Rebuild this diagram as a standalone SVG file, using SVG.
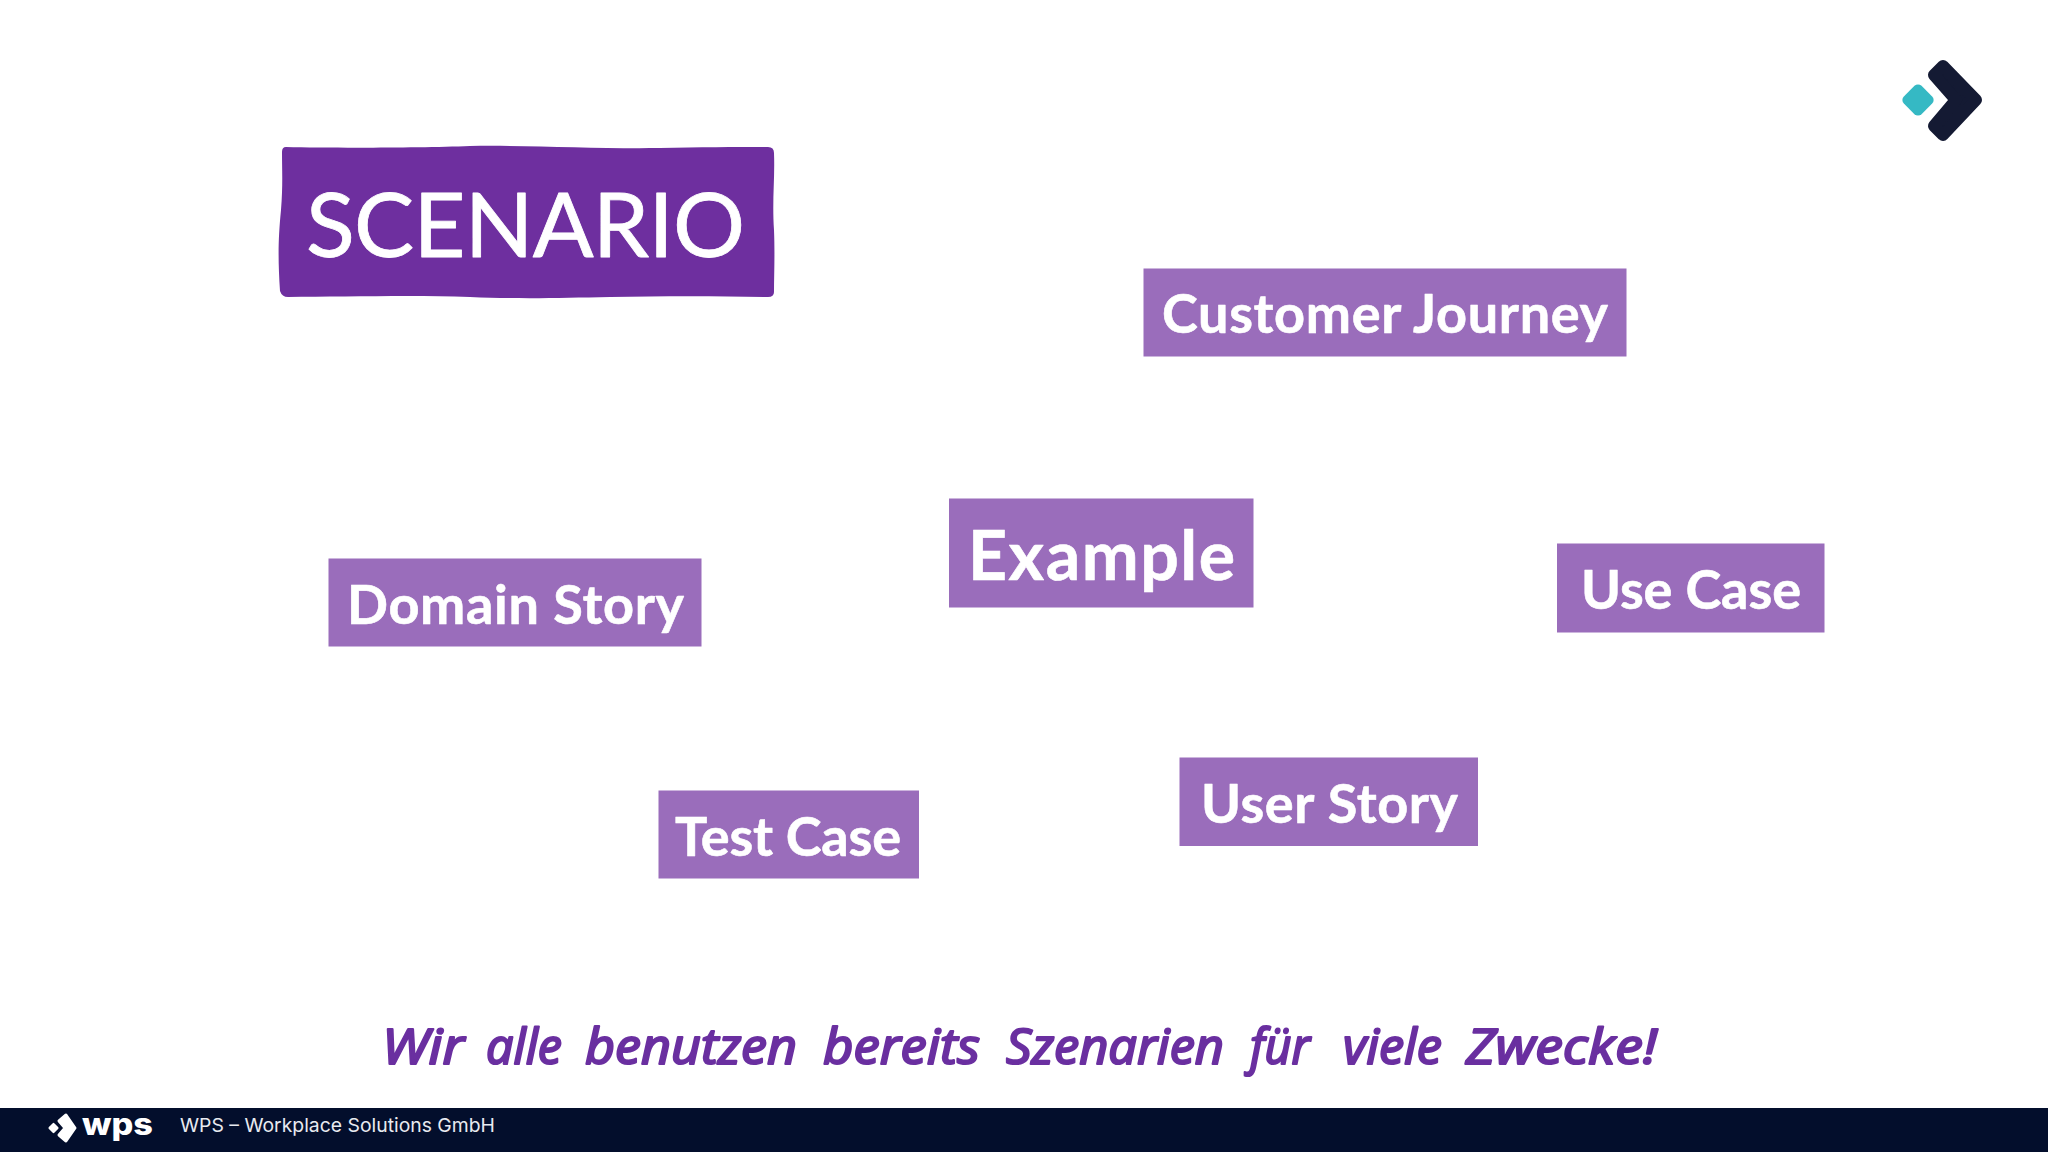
<svg xmlns="http://www.w3.org/2000/svg" width="2048" height="1152" viewBox="0 0 2048 1152">
<style>
.box{fill:#9a6dbb}
.lbl{font-family:Lato,"Noto Sans",sans-serif;font-weight:700;fill:#fff;font-size:54px;stroke:#fff;stroke-width:.6px;stroke-linejoin:round}
.hand{font-family:"Open Sans","Noto Sans",sans-serif;font-style:italic;font-weight:400;fill:#6a2fa0;font-size:50px;stroke:#6a2fa0;stroke-width:2.200px;stroke-linejoin:round}
.navy{fill:#141a33}
</style>
<rect width="2048" height="1152" fill="#fff"/>
<g id="scenario">
<path fill="#6e2f9f" d="M286 147C330 148 420 148 470 146C530 145 600 149 660 148C700 147 740 147 768 147Q774 147 774 153C775 180 772 200 774 230C775 255 774 275 774 292Q774 297 768 297C720 296 660 296 610 297C560 298 520 299 470 297C410 295 340 297 288 297Q282 297 280 291C278 260 278 240 281 210C283 185 282 170 282 152Q282 147 286 147Z"/>
<text x="306" y="257" textLength="439" font-family="Lato,sans-serif" font-size="90" fill="#fff" stroke="#fff" stroke-width=".8" stroke-linejoin="round">SCENARIO</text>
</g>
<g id="customer-journey"><rect class="box" x="1143.500" y="268.500" width="483" height="88"/>
<text class="lbl" x="1162" y="333" textLength="446">Customer Journey</text></g>
<g id="example"><rect class="box" x="949" y="498.500" width="304.500" height="109"/>
<text class="lbl" style="font-size:68px" x="968" y="580" textLength="267">Example</text></g>
<g id="domain-story"><rect class="box" x="328.500" y="558.500" width="373" height="88"/>
<text class="lbl" x="347" y="624" textLength="337">Domain Story</text></g>
<g id="use-case"><rect class="box" x="1557" y="543.500" width="267.500" height="89"/>
<text class="lbl" x="1581" y="609" textLength="220">Use Case</text></g>
<g id="test-case"><rect class="box" x="658.500" y="790.500" width="260.500" height="88"/>
<text class="lbl" x="675" y="856" textLength="226">Test Case</text></g>
<g id="user-story"><rect class="box" x="1179.500" y="757.500" width="298.500" height="88.500"/>
<text class="lbl" x="1201" y="823" textLength="257">User Story</text></g>
<g id="caption">
<text class="hand" y="1064" x="382" textLength="82" lengthAdjust="spacingAndGlyphs">Wir</text>
<text class="hand" y="1064" x="486" textLength="76" lengthAdjust="spacingAndGlyphs">alle</text>
<text class="hand" y="1064" x="585" textLength="212" lengthAdjust="spacingAndGlyphs">benutzen</text>
<text class="hand" y="1064" x="823" textLength="157" lengthAdjust="spacingAndGlyphs">bereits</text>
<text class="hand" y="1064" x="1006" textLength="218" lengthAdjust="spacingAndGlyphs">Szenarien</text>
<text class="hand" y="1064" x="1250" textLength="60" lengthAdjust="spacingAndGlyphs">für</text>
<text class="hand" y="1064" x="1343" textLength="99" lengthAdjust="spacingAndGlyphs">viele</text>
<text class="hand" y="1064" x="1466" textLength="191" lengthAdjust="spacingAndGlyphs">Zwecke!</text>
</g>
<g id="logo">
<rect x="1905.500" y="87.500" width="25" height="25" rx="5" fill="#35b9c4" transform="rotate(45 1918 100)"/>
<path class="navy" stroke="#141a33" stroke-width="12" stroke-linejoin="round" d="M1943 66L1976 100L1943 135L1934 126L1956 100L1934 75Z"/>
</g>
<g id="footer">
<rect y="1108" width="2048" height="44" fill="#030e2c"/>
<rect x="49.500" y="1124" width="8" height="8" rx="1.500" fill="#fff" transform="rotate(45 53.500 1128)"/>
<path fill="#fff" stroke="#fff" stroke-width="3" stroke-linejoin="round" d="M66 1115L75 1128L66 1141L59 1135L65 1128L59 1121Z"/>
<text x="82" y="1135" textLength="71" lengthAdjust="spacingAndGlyphs" font-family="Inter,sans-serif" font-weight="800" font-size="30" fill="#fff">wps</text>
<text x="180" y="1132" textLength="315" lengthAdjust="spacingAndGlyphs" font-family="Inter,sans-serif" font-size="19" fill="#e8eaf0">WPS – Workplace Solutions GmbH</text>
</g>
</svg>
